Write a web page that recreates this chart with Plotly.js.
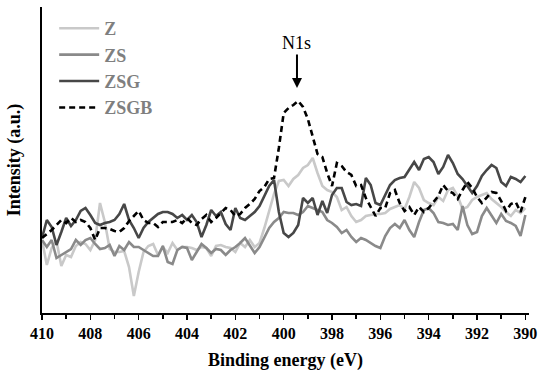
<!DOCTYPE html>
<html>
<head>
<meta charset="utf-8">
<script src="https://cdn.plot.ly/plotly-3.0.1.min.js"></script>
<style>html,body{margin:0;padding:0;background:#fff;}#chart{width:550px;height:377px;}</style>
</head>
<body>
<div id="chart"></div>
<script>
// Binding energy grid: 410 -> 390 eV, 0.2 eV step
const bindingEnergy = [];
for (let i = 0; i <= 100; i++) bindingEnergy.push(+(410 - i * 0.2).toFixed(1));

const seriesNames = ["Z", "ZS", "ZSG", "ZSGB"];

const intensityZ = [
  73,48,65,72,47,58,56,67,71,69,
  63,73,110,91,64,61,61,62,46,17,
  41,61,67,69,58,66,60,70,63,66,
  66,65,63,66,65,57,67,68,66,65,
  61,70,66,73,66,70,85,103,119,132,
  133,127,134,138,145,148,155,140,127,123,
  121,116,103,106,97,91,93,97,98,99,
  99,100,104,106,108,104,116,131,125,113,
  110,108,116,112,123,125,117,104,106,113,
  116,118,120,114,110,106,101,97,103,100,
  105
];
const intensityZS = [
  73,66,73,55,58,61,64,73,68,73,
  75,69,64,65,68,57,67,63,71,66,
  66,63,60,57,57,67,51,49,63,66,
  65,53,61,69,65,60,64,63,58,63,
  66,70,75,67,60,66,75,85,91,95,
  101,100,100,98,101,107,105,103,101,93,
  90,86,80,83,76,71,75,73,70,67,
  65,77,85,89,85,93,83,76,91,103,
  105,100,91,90,88,89,83,107,88,79,
  81,97,105,97,90,99,92,90,87,77,
  98
];
const intensityZSG = [
  75,93,86,68,81,95,87,93,102,105,
  98,90,88,90,91,93,99,109,93,85,
  75,85,91,95,99,101,101,99,95,98,
  93,98,91,76,88,103,97,101,89,83,
  105,95,93,97,101,107,117,127,133,101,
  80,76,80,88,115,110,115,98,112,100,
  118,125,125,111,108,109,107,135,128,110,
  108,118,128,133,135,136,143,151,143,154,
  156,151,139,146,158,150,139,134,127,120,
  127,137,143,148,145,131,127,136,134,131,
  137
];
const intensityZSGB = [
  75,79,83,88,93,90,95,91,93,91,
  85,73,85,85,84,82,81,85,92,97,
  102,93,90,90,86,91,91,91,93,90,
  95,90,88,94,98,91,95,100,105,103,
  97,99,105,109,114,122,126,134,135,165,
  200,205,208,212,206,194,175,159,156,140,
  127,150,147,141,138,127,128,115,106,97,
  105,105,120,123,110,102,106,98,106,101,
  105,111,117,128,122,120,114,123,131,125,
  116,110,116,121,120,112,102,109,111,101,
  116
];

const xTickVals = [410,408,406,404,402,400,398,396,394,392,390];
const xTickText = ["410","408","406","404","402","400","398","396","394","392","390"];

const serif = "'Times New Roman', 'Liberation Serif', serif";
const colors = ["#c9c9c9", "#8a8a8a", "#474747", "#000000"];
const dashes = ["solid", "solid", "solid", "6px,4px"];
const ys = [intensityZ, intensityZS, intensityZSG, intensityZSGB];

const traces = seriesNames.map((name, k) => ({
  type: "scatter",
  mode: "lines",
  name: name,
  x: bindingEnergy,
  y: ys[k],
  line: { color: colors[k], width: 2.6, dash: dashes[k] }
}));

const layout = {
  width: 550,
  height: 377,
  margin: { l: 42, r: 21, t: 7, b: 64 },
  paper_bgcolor: "#ffffff",
  plot_bgcolor: "#ffffff",
  showlegend: true,
  legend: {
    x: 0.025, y: 0.99, xanchor: "left", yanchor: "top",
    bgcolor: "rgba(0,0,0,0)",
    font: { family: serif, size: 18, color: "#7f7f7f", weight: "bold" },
    tracegroupgap: 0,
    itemwidth: 40
  },
  xaxis: {
    range: [410, 389.85],
    autorange: false,
    showgrid: false,
    zeroline: false,
    showline: true,
    linecolor: "#000",
    linewidth: 2,
    ticks: "outside",
    ticklen: 5,
    tickwidth: 1.5,
    tickcolor: "#000",
    tickmode: "array",
    tickvals: xTickVals,
    ticktext: xTickText,
    minor: { dtick: 1, tick0: 410, ticks: "outside", ticklen: 4, tickwidth: 1.5, tickcolor: "#000", showgrid: false },
    tickfont: { family: serif, size: 16, color: "#000", weight: "bold" },
    title: { text: "Binding energy (eV)", font: { family: serif, size: 18, color: "#000", weight: "bold" }, standoff: 12 }
  },
  yaxis: {
    range: [0, 306],
    autorange: false,
    showgrid: false,
    zeroline: false,
    showline: true,
    linecolor: "#000",
    linewidth: 2,
    ticks: "",
    showticklabels: false,
    title: { text: "Intensity (a.u.)", font: { family: serif, size: 18, color: "#000", weight: "bold" }, standoff: 15 }
  },
  annotations: [{
    x: 399.45, y: 225, xref: "x", yref: "y",
    text: "N1s",
    showarrow: true, arrowhead: 2, arrowsize: 1, arrowwidth: 2, arrowcolor: "#000",
    ax: 0, ay: -45,
    font: { family: serif, size: 18, color: "#000" }
  }]
};

Plotly.newPlot("chart", traces, layout, { displayModeBar: false, staticPlot: true });
</script>
</body>
</html>
